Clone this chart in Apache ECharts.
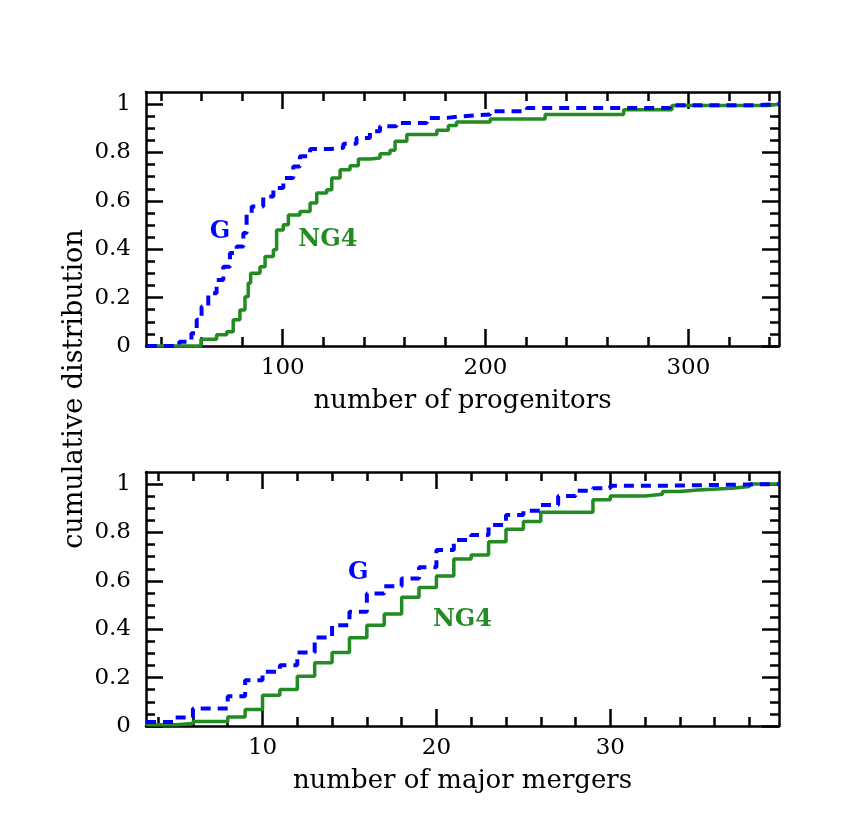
<!DOCTYPE html>
<html style="height: 100%">
<head>
  <meta charset="utf-8">
</head>
<body style="height: 100%; margin: 0; background: #fff">
<div id="container" style="width: 843px; height: 836px"></div>
<script type="text/javascript" src="https://cdn.jsdelivr.net/npm/echarts@6/dist/echarts.min.js"></script>
<script type="text/javascript">
// top panel: number of progenitors  [x, cumulative fraction]
var progG = [[33, 0], [49, 0.018], [55, 0.053], [57.6, 0.108], [60, 0.163], [63.3, 0.218], [67.4, 0.273],
  [70.7, 0.328], [74, 0.384], [77.3, 0.411], [80.6, 0.467], [82.2, 0.549], [84.7, 0.577], [90.4, 0.618],
  [95.4, 0.653], [100.3, 0.694], [105.2, 0.742], [108.5, 0.784], [113.5, 0.814], [123.3, 0.819],
  [129.9, 0.836], [136.4, 0.86], [143, 0.888], [148, 0.908], [156.1, 0.922], [171, 0.943], [181, 0.949],
  [187.5, 0.957], [202.3, 0.97], [220.4, 0.984], [291, 0.995], [330.5, 1.0], [345, 1.0]];
var progNG4 = [[33, 0], [59.7, 0.028], [67.4, 0.046], [72.4, 0.059], [75.6, 0.108], [78.9, 0.149],
  [81.4, 0.204], [83, 0.26], [84.2, 0.301], [88.8, 0.328], [91.3, 0.37], [95.4, 0.398], [97, 0.48],
  [100.3, 0.501], [102.8, 0.542], [108.5, 0.556], [113.5, 0.591], [116.8, 0.632], [121.7, 0.646],
  [124.2, 0.694], [128.3, 0.729], [133.2, 0.745], [137.3, 0.773], [143, 0.777], [148, 0.795],
  [152.9, 0.809], [155.4, 0.846], [161.2, 0.874], [176, 0.892], [181.7, 0.912], [185.7, 0.926],
  [202.3, 0.938], [229.4, 0.957], [268.1, 0.977], [291.9, 0.994], [340, 1.0], [345, 1.0]];

// bottom panel: number of major mergers
var mergG = [[3.3, 0.017], [5, 0.035], [6, 0.072], [8, 0.123], [9, 0.189], [10, 0.224], [11, 0.251],
  [12, 0.304], [13, 0.366], [14, 0.417], [15, 0.472], [16, 0.548], [17, 0.578], [18, 0.61], [19, 0.656],
  [20, 0.728], [21, 0.769], [22, 0.79], [23, 0.831], [24, 0.872], [25, 0.89], [26, 0.914], [27, 0.951],
  [28, 0.973], [29, 0.983], [30, 0.993], [33, 1.0], [39.7, 1.0]];
var mergNG4 = [[3.3, 0.005], [5, 0.01], [6, 0.019], [8, 0.037], [9, 0.068], [10, 0.127], [11, 0.151],
  [12, 0.206], [13, 0.261], [14, 0.304], [15, 0.365], [16, 0.417], [17, 0.463], [18, 0.532], [19, 0.573],
  [20, 0.62], [21, 0.69], [22, 0.707], [23, 0.762], [24, 0.813], [25, 0.845], [26, 0.884], [29, 0.935],
  [30, 0.951], [32, 0.958], [33, 0.969], [34, 0.976], [35, 0.983], [37, 0.99], [38, 1.0], [39.7, 1.0]];

var progMajor = [100, 200, 300];
var progMinor = [40, 60, 80, 120, 140, 160, 180, 220, 240, 260, 280, 320, 340];
var mergMajor = [10, 20, 30];
var mergMinor = [4, 6, 8, 12, 14, 16, 18, 22, 24, 26, 28, 32, 34, 36, 38];
var yMajor = [0, 0.2, 0.4, 0.6, 0.8, 1];
var yMinor = [0.05, 0.1, 0.15, 0.25, 0.3, 0.35, 0.45, 0.5, 0.55, 0.65, 0.7, 0.75, 0.85, 0.9, 0.95];

// label spots (data coords)
var progLabels = [{ name: 'G', coord: [69.1, 0.472] }, { name: 'NG4', coord: [122.3, 0.439] }];
var mergLabels = [{ name: 'G', coord: [15.5, 0.632] }, { name: 'NG4', coord: [21.5, 0.438] }];

var FONT = 'DejaVu Serif';
var BLUE = '#0000ff', GREEN = '#228b22';
var TICK = { color: '#000', width: 2.5 };

function xAxes(gi, min, max, major, minor, name) {
    var line = { show: true, onZero: false, lineStyle: { color: '#000', width: 2.5 } };
    var noLine = { show: false, onZero: false };
    var base = { type: 'value', gridIndex: gi, min: min, max: max, splitLine: { show: false } };
    return [
        Object.assign({}, base, {
            position: 'bottom', axisLine: line,
            axisTick: { inside: true, length: 17, customValues: major, lineStyle: TICK },
            axisLabel: { customValues: major, margin: 11, color: '#000', fontFamily: FONT, fontSize: 23 },
            name: name, nameLocation: 'middle', nameGap: 42,
            nameTextStyle: { color: '#000', fontFamily: FONT, fontSize: 26 }
        }),
        Object.assign({}, base, {
            position: 'bottom', axisLine: noLine, axisLabel: { show: false },
            axisTick: { inside: true, length: 9, customValues: minor, lineStyle: TICK }
        }),
        Object.assign({}, base, {
            position: 'top', axisLine: line, axisLabel: { show: false },
            axisTick: { inside: true, length: 17, customValues: major, lineStyle: TICK }
        }),
        Object.assign({}, base, {
            position: 'top', axisLine: noLine, axisLabel: { show: false },
            axisTick: { inside: true, length: 9, customValues: minor, lineStyle: TICK }
        })
    ];
}

function yAxes(gi) {
    var line = { show: true, onZero: false, lineStyle: { color: '#000', width: 2.5 } };
    var noLine = { show: false, onZero: false };
    var base = { type: 'value', gridIndex: gi, min: 0, max: 1.05, splitLine: { show: false } };
    return [
        Object.assign({}, base, {
            position: 'left', axisLine: line,
            axisTick: { inside: true, length: 17, customValues: yMajor, lineStyle: TICK },
            axisLabel: { customValues: yMajor, margin: 15, color: '#000', fontFamily: FONT, fontSize: 23 }
        }),
        Object.assign({}, base, {
            position: 'left', axisLine: noLine, axisLabel: { show: false },
            axisTick: { inside: true, length: 9, customValues: yMinor, lineStyle: TICK }
        }),
        Object.assign({}, base, {
            position: 'right', axisLine: line, axisLabel: { show: false },
            axisTick: { inside: true, length: 17, customValues: yMajor, lineStyle: TICK }
        }),
        Object.assign({}, base, {
            position: 'right', axisLine: noLine, axisLabel: { show: false },
            axisTick: { inside: true, length: 9, customValues: yMinor, lineStyle: TICK }
        })
    ];
}

function labelPoints(list, color) {
    return {
        silent: true,
        symbol: 'rect',
        symbolSize: 1,
        itemStyle: { color: 'rgba(0,0,0,0)' },
        label: {
            show: true, position: 'inside', formatter: '{b}', color: color,
            fontFamily: FONT, fontWeight: 'bold', fontSize: 24
        },
        data: list
    };
}

function stepSeries(data, gi, color, dashed, label) {
    return {
        type: 'line',
        step: 'end',
        xAxisIndex: gi * 4,
        yAxisIndex: gi * 4,
        data: data,
        showSymbol: false,
        clip: true,
        lineStyle: { color: color, width: dashed ? 4 : 3.5, type: dashed ? [10, 7] : 'solid' },
        markPoint: labelPoints([label], color)
    };
}

var dom = document.getElementById('container');
var myChart = echarts.init(dom, null, { renderer: 'canvas' });

var option = {
    animation: false,
    backgroundColor: '#fff',
    grid: [
        { left: 146, right: 64, top: 92, height: 254 },
        { left: 146, right: 64, top: 472, height: 254 }
    ],
    xAxis: xAxes(0, 32.6, 344.7, progMajor, progMinor, 'number of progenitors')
        .concat(xAxes(1, 3.3, 39.7, mergMajor, mergMinor, 'number of major mergers')),
    yAxis: yAxes(0).concat(yAxes(1)),
    graphic: [{
        type: 'text',
        x: 75,
        y: 389,
        rotation: Math.PI / 2,
        style: {
            text: 'cumulative distribution',
            fill: '#000',
            font: '27px "DejaVu Serif"',
            textAlign: 'center',
            textVerticalAlign: 'middle'
        }
    }],
    series: [
        stepSeries(progNG4, 0, GREEN, false, progLabels[1]),
        stepSeries(progG, 0, BLUE, true, progLabels[0]),
        stepSeries(mergNG4, 1, GREEN, false, mergLabels[1]),
        stepSeries(mergG, 1, BLUE, true, mergLabels[0])
    ]
};

myChart.setOption(option);
</script>
</body>
</html>
